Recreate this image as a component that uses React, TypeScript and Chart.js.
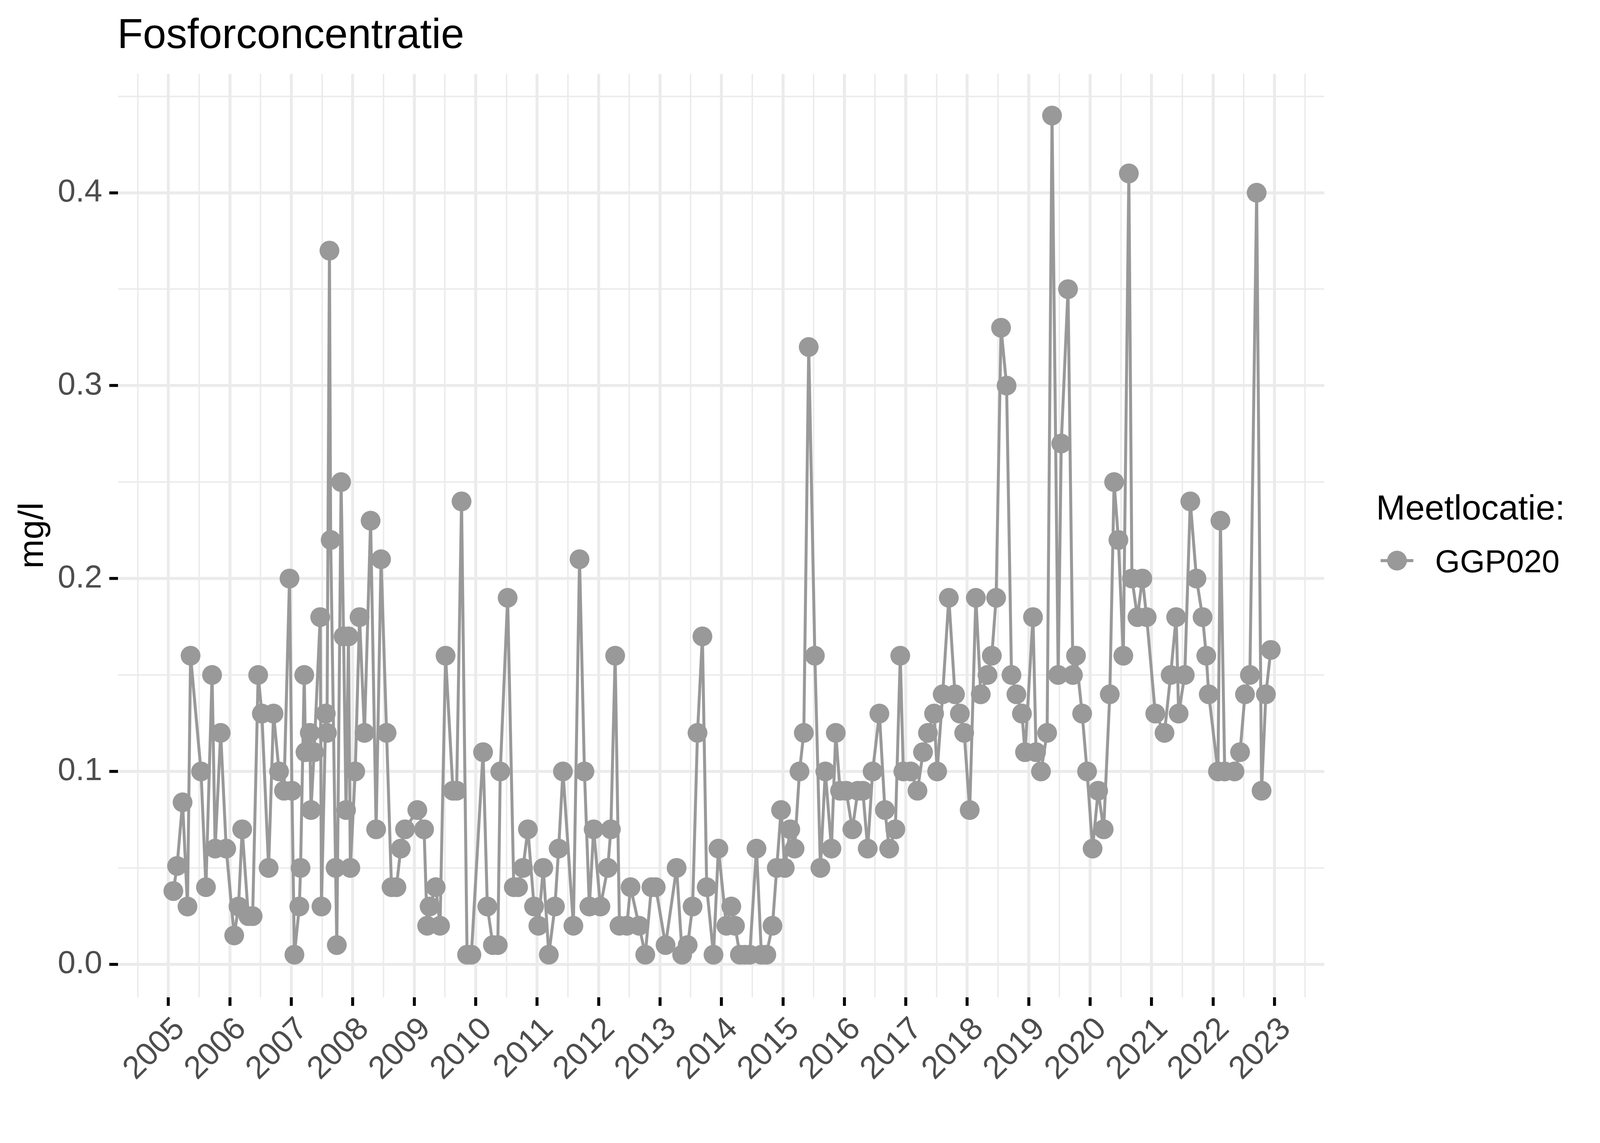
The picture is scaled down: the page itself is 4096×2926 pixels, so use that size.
import React, { useEffect, useRef } from "react";
import { Chart, registerables } from "chart.js";

Chart.register(...registerables);

const WIDTH = 4096;
const HEIGHT = 2926;
const S = 0.975;

const chartTitle = "Fosforconcentratie";
const yAxisTitle = "mg/l";
const legendTitle = "Meetlocatie:";
const seriesName = "GGP020";

const yearTicks = [2005, 2006, 2007, 2008, 2009, 2010, 2011, 2012, 2013, 2014, 2015, 2016, 2017, 2018, 2019, 2020, 2021, 2022, 2023];
const valueTicks = [0, 0.1, 0.2, 0.3, 0.4];

const sampleDates = [
  2005.08, 2005.14, 2005.23, 2005.31, 2005.36, 2005.53, 2005.61, 2005.71, 2005.76, 2005.85, 2005.94,
  2006.07, 2006.14, 2006.20, 2006.30, 2006.37, 2006.46, 2006.52, 2006.63, 2006.71, 2006.80, 2006.88, 2006.97,
  2007.01, 2007.05, 2007.13, 2007.15, 2007.21, 2007.23, 2007.30, 2007.32, 2007.37, 2007.47, 2007.49, 2007.56,
  2007.58, 2007.62, 2007.64, 2007.72, 2007.74, 2007.81, 2007.85, 2007.89, 2007.93, 2007.96,
  2008.04, 2008.11, 2008.19, 2008.29, 2008.38, 2008.46, 2008.55, 2008.63, 2008.71, 2008.78, 2008.85,
  2009.05, 2009.16, 2009.21, 2009.25, 2009.35, 2009.42, 2009.51, 2009.63, 2009.69, 2009.77, 2009.86, 2009.93,
  2010.12, 2010.19, 2010.28, 2010.36, 2010.40, 2010.52, 2010.62, 2010.69, 2010.77, 2010.85, 2010.95,
  2011.02, 2011.10, 2011.19, 2011.29, 2011.35, 2011.42, 2011.59, 2011.69, 2011.77, 2011.85, 2011.92,
  2012.03, 2012.15, 2012.20, 2012.27, 2012.34, 2012.46, 2012.52, 2012.66, 2012.76, 2012.86, 2012.93,
  2013.09, 2013.27, 2013.36, 2013.45, 2013.53, 2013.61, 2013.69, 2013.76, 2013.87, 2013.95,
  2014.08, 2014.16, 2014.22, 2014.30, 2014.38, 2014.46, 2014.57, 2014.65, 2014.73, 2014.83, 2014.90, 2014.97,
  2015.03, 2015.12, 2015.19, 2015.27, 2015.34, 2015.42, 2015.52, 2015.61, 2015.69, 2015.79, 2015.86, 2015.93,
  2016.03, 2016.13, 2016.22, 2016.30, 2016.38, 2016.46, 2016.57, 2016.66, 2016.73, 2016.83, 2016.91, 2016.96,
  2017.08, 2017.19, 2017.28, 2017.36, 2017.46, 2017.51, 2017.60, 2017.70, 2017.80, 2017.88, 2017.95,
  2018.04, 2018.14, 2018.22, 2018.33, 2018.40, 2018.47, 2018.55, 2018.64, 2018.72, 2018.80, 2018.89, 2018.94,
  2019.07, 2019.12, 2019.20, 2019.30, 2019.38, 2019.48, 2019.53, 2019.64, 2019.72, 2019.77, 2019.87, 2019.95,
  2020.04, 2020.13, 2020.22, 2020.32, 2020.39, 2020.46, 2020.54, 2020.63, 2020.68, 2020.77, 2020.85, 2020.92,
  2021.06, 2021.21, 2021.31, 2021.40, 2021.44, 2021.54, 2021.63, 2021.73, 2021.83, 2021.89, 2021.93,
  2022.08, 2022.12, 2022.19, 2022.35, 2022.44, 2022.52, 2022.60, 2022.71, 2022.79, 2022.86, 2022.94,
];

const phosphorus = [
  0.038, 0.051, 0.084, 0.030, 0.160, 0.100, 0.040, 0.150, 0.060, 0.120, 0.060,
  0.015, 0.030, 0.070, 0.025, 0.025, 0.150, 0.130, 0.050, 0.130, 0.100, 0.090, 0.200,
  0.090, 0.005, 0.030, 0.050, 0.150, 0.110, 0.120, 0.080, 0.110, 0.180, 0.030, 0.130,
  0.120, 0.370, 0.220, 0.050, 0.010, 0.250, 0.170, 0.080, 0.170, 0.050,
  0.100, 0.180, 0.120, 0.230, 0.070, 0.210, 0.120, 0.040, 0.040, 0.060, 0.070,
  0.080, 0.070, 0.020, 0.030, 0.040, 0.020, 0.160, 0.090, 0.090, 0.240, 0.005, 0.005,
  0.110, 0.030, 0.010, 0.010, 0.100, 0.190, 0.040, 0.040, 0.050, 0.070, 0.030,
  0.020, 0.050, 0.005, 0.030, 0.060, 0.100, 0.020, 0.210, 0.100, 0.030, 0.070,
  0.030, 0.050, 0.070, 0.160, 0.020, 0.020, 0.040, 0.020, 0.005, 0.040, 0.040,
  0.010, 0.050, 0.005, 0.010, 0.030, 0.120, 0.170, 0.040, 0.005, 0.060,
  0.020, 0.030, 0.020, 0.005, 0.005, 0.005, 0.060, 0.005, 0.005, 0.020, 0.050, 0.080,
  0.050, 0.070, 0.060, 0.100, 0.120, 0.320, 0.160, 0.050, 0.100, 0.060, 0.120, 0.090,
  0.090, 0.070, 0.090, 0.090, 0.060, 0.100, 0.130, 0.080, 0.060, 0.070, 0.160, 0.100,
  0.100, 0.090, 0.110, 0.120, 0.130, 0.100, 0.140, 0.190, 0.140, 0.130, 0.120,
  0.080, 0.190, 0.140, 0.150, 0.160, 0.190, 0.330, 0.300, 0.150, 0.140, 0.130, 0.110,
  0.180, 0.110, 0.100, 0.120, 0.440, 0.150, 0.270, 0.350, 0.150, 0.160, 0.130, 0.100,
  0.060, 0.090, 0.070, 0.140, 0.250, 0.220, 0.160, 0.410, 0.200, 0.180, 0.200, 0.180,
  0.130, 0.120, 0.150, 0.180, 0.130, 0.150, 0.240, 0.200, 0.180, 0.160, 0.140,
  0.100, 0.230, 0.100, 0.100, 0.110, 0.140, 0.150, 0.400, 0.090, 0.140, 0.163,
];

const SERIES_COLOR = "#999999";
const GRID_COLOR = "#EBEBEB";
const FONT = '"Liberation Sans", Arial, sans-serif';

// layout (reference px * S)
const AREA_LEFT = 310 * S;
const AREA_RIGHT = 3477 * S;
const AREA_TOP = 194 * S;
const AREA_BOTTOM = 2618 * S;
const X_MIN = 2004.18;
const X_MAX = 2023.81;
const Y_MIN = -0.01698;
const Y_MAX = 0.4616;

const MAJOR_GRID = 7.5;
const MINOR_GRID = 3.7;
const TICK_LEN = 22.4;
const TICK_W = 7.6;
const TICK_FONT = 82;

const isWhole = (v: number, step: number) => Math.abs(v / step - Math.round(v / step)) < 1e-6;

const xBreaks: number[] = [];
yearTicks.forEach((y) => { xBreaks.push(y - 0.5); xBreaks.push(y); });
xBreaks.push(yearTicks[yearTicks.length - 1] + 0.5);
const yBreaks: number[] = [];
valueTicks.forEach((v) => { yBreaks.push(v); yBreaks.push(+(v + 0.05).toFixed(2)); });

const overlayPlugin = {
  id: "overlayText",
  afterDraw(chart: any) {
    const ctx = chart.ctx as CanvasRenderingContext2D;
    ctx.save();
    // title
    ctx.fillStyle = "#000000";
    ctx.textAlign = "left";
    ctx.textBaseline = "alphabetic";
    ctx.font = `${110 * S}px ${FONT}`;
    ctx.fillText(chartTitle, 308 * S, 126 * S);
    // y axis title
    ctx.save();
    ctx.translate(113 * S, 1406 * S);
    ctx.rotate(-Math.PI / 2);
    ctx.textAlign = "center";
    ctx.font = `${92 * S}px ${FONT}`;
    ctx.fillText(yAxisTitle, 0, 0);
    ctx.restore();
    // legend
    ctx.font = `${92 * S}px ${FONT}`;
    ctx.fillText(legendTitle, 3613 * S, 1364 * S);
    ctx.strokeStyle = SERIES_COLOR;
    ctx.lineWidth = 8 * S;
    ctx.beginPath();
    ctx.moveTo(3625 * S, 1472 * S);
    ctx.lineTo(3711 * S, 1472 * S);
    ctx.stroke();
    ctx.fillStyle = SERIES_COLOR;
    ctx.beginPath();
    ctx.arc(3668 * S, 1472 * S, 26 * S, 0, Math.PI * 2);
    ctx.fill();
    ctx.fillStyle = "#000000";
    ctx.font = `${84 * S}px ${FONT}`;
    ctx.fillText(seriesName, 3768 * S, 1503 * S);
    ctx.restore();
  },
};

export default function App() {
  const canvasRef = useRef<HTMLCanvasElement | null>(null);

  useEffect(() => {
    document.body.style.margin = "0";
    const canvas = canvasRef.current;
    if (!canvas) return;
    const points = sampleDates.map((d, i) => ({ x: d, y: phosphorus[i] }));
    const chart = new Chart(canvas, {
      type: "line",
      data: {
        datasets: [
          {
            label: seriesName,
            data: points,
            borderColor: SERIES_COLOR,
            backgroundColor: SERIES_COLOR,
            borderWidth: 7.6,
            borderJoinStyle: "round",
            pointRadius: 26 * S,
            pointBorderWidth: 0,
            pointBackgroundColor: SERIES_COLOR,
            pointHoverRadius: 26 * S,
            tension: 0,
            fill: false,
          },
        ],
      },
      options: {
        animation: false,
        responsive: false,
        devicePixelRatio: 1,
        events: [],
        layout: {
          padding: { top: AREA_TOP, right: WIDTH - AREA_RIGHT, bottom: 0, left: 0 },
        },
        plugins: {
          legend: { display: false },
          title: { display: false },
          tooltip: { enabled: false },
        },
        scales: {
          x: {
            type: "linear",
            min: X_MIN,
            max: X_MAX,
            afterBuildTicks: (scale: any) => {
              scale.ticks = xBreaks.map((v) => ({ value: v }));
            },
            afterFit: (scale: any) => {
              scale.height = HEIGHT - AREA_BOTTOM;
            },
            border: { display: false },
            grid: {
              color: GRID_COLOR,
              lineWidth: (c: any) => (isWhole(c.tick.value, 1) ? MAJOR_GRID : MINOR_GRID),
              drawTicks: true,
              tickLength: TICK_LEN,
              tickWidth: TICK_W,
              tickColor: (c: any) => (isWhole(c.tick.value, 1) ? "#000000" : "rgba(0,0,0,0)"),
            },
            ticks: {
              autoSkip: false,
              minRotation: 45,
              maxRotation: 45,
              padding: 17.6,
              labelOffset: (TICK_FONT / 2) * Math.SQRT1_2,
              color: "#4D4D4D",
              font: { family: FONT, size: TICK_FONT, lineHeight: 1 },
              callback: (v: any) => (isWhole(Number(v), 1) ? String(Math.round(Number(v))) : ""),
            },
          },
          y: {
            type: "linear",
            min: Y_MIN,
            max: Y_MAX,
            afterBuildTicks: (scale: any) => {
              scale.ticks = yBreaks.map((v) => ({ value: v }));
            },
            afterFit: (scale: any) => {
              scale.width = AREA_LEFT;
            },
            border: { display: false },
            grid: {
              color: GRID_COLOR,
              lineWidth: (c: any) => (isWhole(c.tick.value, 0.1) ? MAJOR_GRID : MINOR_GRID),
              drawTicks: true,
              tickLength: TICK_LEN,
              tickWidth: TICK_W,
              tickColor: (c: any) => (isWhole(c.tick.value, 0.1) ? "#000000" : "rgba(0,0,0,0)"),
            },
            ticks: {
              autoSkip: false,
              padding: 18,
              color: "#4D4D4D",
              font: { family: FONT, size: TICK_FONT, lineHeight: 1 },
              callback: (v: any) => (isWhole(Number(v), 0.1) ? Number(v).toFixed(1) : ""),
            },
          },
        },
      },
      plugins: [overlayPlugin],
    } as any);
    return () => chart.destroy();
  }, []);

  return (
    <div style={{ position: "absolute", left: 0, top: 0, width: WIDTH, height: HEIGHT, background: "#ffffff" }}>
      <canvas ref={canvasRef} width={WIDTH} height={HEIGHT} style={{ width: WIDTH, height: HEIGHT, display: "block" }} />
    </div>
  );
}
